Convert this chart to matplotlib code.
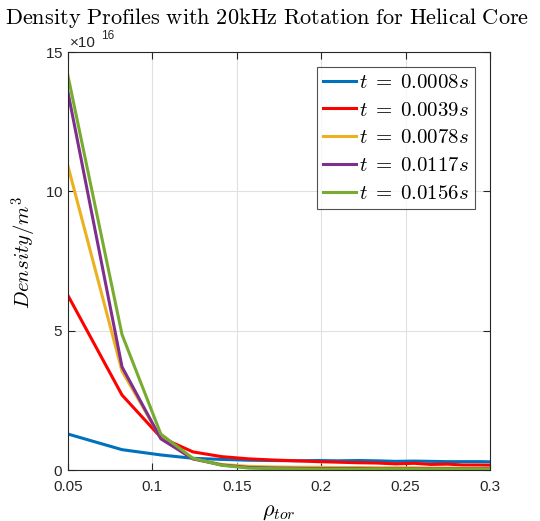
import matplotlib
matplotlib.use("Agg")
import matplotlib.pyplot as plt
from matplotlib.ticker import ScalarFormatter

plt.rcParams['font.family'] = ['Liberation Sans', 'DejaVu Sans']
plt.rcParams['mathtext.fontset'] = 'cm'

rho = [0.05, 0.082, 0.105, 0.124, 0.141, 0.157, 0.171, 0.185, 0.198, 0.210,
       0.222, 0.233, 0.244, 0.255, 0.265, 0.275, 0.284, 0.294, 0.303]

scale = 1e16
n_0008 = [1.29, 0.73, 0.54, 0.42, 0.38, 0.35, 0.34, 0.33, 0.34, 0.33,
          0.34, 0.33, 0.31, 0.32, 0.31, 0.30, 0.30, 0.30, 0.29]
n_0039 = [6.26, 2.69, 1.17, 0.65, 0.48, 0.40, 0.36, 0.33, 0.30, 0.28,
          0.26, 0.25, 0.22, 0.24, 0.20, 0.21, 0.18, 0.18, 0.17]
n_0078 = [10.9, 3.55, 1.15, 0.40, 0.20, 0.13, 0.11, 0.10, 0.10, 0.09,
          0.09, 0.08, 0.08, 0.08, 0.07, 0.07, 0.07, 0.06, 0.06]
n_0117 = [13.55, 3.70, 1.12, 0.40, 0.18, 0.09, 0.07, 0.06, 0.05, 0.05,
          0.05, 0.04, 0.04, 0.04, 0.04, 0.04, 0.04, 0.04, 0.04]
n_0156 = [14.14, 4.86, 1.29, 0.42, 0.17, 0.07, 0.05, 0.04, 0.03, 0.03,
          0.03, 0.03, 0.03, 0.03, 0.03, 0.03, 0.03, 0.03, 0.03]

labels = [r'$t\;=\;0.0008s$', r'$t\;=\;0.0039s$', r'$t\;=\;0.0078s$',
          r'$t\;=\;0.0117s$', r'$t\;=\;0.0156s$']
series = [n_0008, n_0039, n_0078, n_0117, n_0156]
colors = [(0, 0.447, 0.741), (1, 0, 0), (0.929, 0.694, 0.125),
          (0.494, 0.184, 0.556), (0.466, 0.674, 0.188)]

xticks = [0.05, 0.1, 0.15, 0.2, 0.25, 0.3]
xticklabels = ['0.05', '0.1', '0.15', '0.2', '0.25', '0.3']
yticks = [0, 5e16, 10e16, 15e16]

W, H = 540, 521
fig = plt.figure(figsize=(W/100, H/100), dpi=100)
ax = fig.add_axes([68/W, 1-470/H, (490-68)/W, (470-52)/H])

for vals, c, lab in zip(series, colors, labels):
    ax.plot(rho, [v*scale for v in vals], color=c, lw=2.2, label=lab)

ax.set_xlim(0.05, 0.3)
ax.set_ylim(0, 1.5e17)
ax.set_xticks(xticks)
ax.set_xticklabels(xticklabels)
ax.set_yticks(yticks)
fmt = ScalarFormatter(useMathText=True)
fmt.set_powerlimits((16, 16))
ax.yaxis.set_major_formatter(fmt)
ax.yaxis.get_offset_text().set_visible(False)
fig.text(70/W, 1-47/H, '\u00d710', fontsize=11, ha='left', va='baseline', color='0.15')
fig.text(101/W, 1-39/H, '16', fontsize=8.5, ha='left', va='baseline', color='0.15')

ax.grid(True, color='0.88', lw=0.8)
ax.set_axisbelow(True)
ax.tick_params(direction='in', top=True, right=True, labelsize=11,
               colors='0.15', length=5, width=0.8)
ax.tick_params(axis='x', pad=7)
for s in ax.spines.values():
    s.set_color('0.15')
    s.set_linewidth(0.8)

ax.set_title(r'$\mathrm{Density\ Profiles\ with\ 20kHz\ Rotation\ for\ Helical\ Core}$',
             fontsize=16.1, pad=20, x=(267-68)/422)
ax.set_ylabel(r'$Density/m^3$', fontsize=15)
ax.yaxis.set_label_coords(-0.068, 0.52)
ax.set_xlabel(r'$\rho_{tor}$', fontsize=16)
ax.xaxis.set_label_coords(0.5, -0.074)

leg = ax.legend(loc='upper right', frameon=True, fancybox=False,
                edgecolor='0.15', handlelength=1.6, handletextpad=0.15,
                borderpad=0.3, labelspacing=0.42, borderaxespad=0.7,
                fontsize=15)
leg.get_frame().set_linewidth(0.8)

fig.savefig('out.png', dpi=100)
